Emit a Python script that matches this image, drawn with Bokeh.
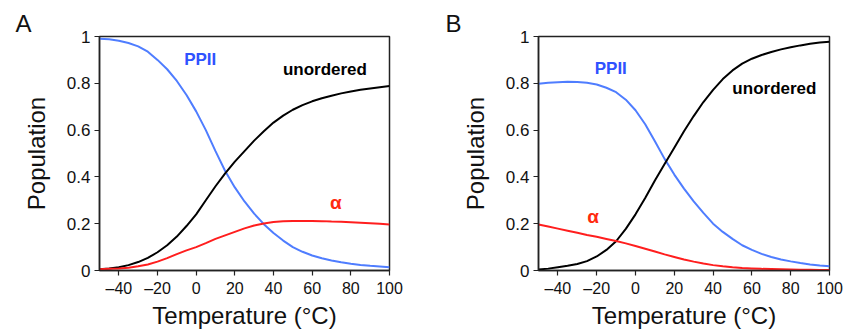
from bokeh.plotting import figure
from bokeh.layouts import row
from bokeh.models import Range1d, FixedTicker, CustomJSTickFormatter, Label
from bokeh.embed import file_html
from bokeh.resources import INLINE

# ---------------- data ----------------
temperature = [-50, -45, -40, -35, -30, -25, -20, -15, -10, -5, 0, 5, 10, 15, 20, 25,
               30, 35, 40, 45, 50, 55, 60, 65, 70, 75, 80, 85, 90, 95, 100]

a_ppii = [0.99, 0.988, 0.982, 0.972, 0.958, 0.935, 0.90, 0.86, 0.81, 0.75, 0.68, 0.60,
          0.51, 0.425, 0.355, 0.295, 0.243, 0.198, 0.160, 0.128, 0.10, 0.08, 0.064, 0.052,
          0.043, 0.035, 0.029, 0.024, 0.020, 0.017, 0.014]
a_unordered = [0.005, 0.009, 0.014, 0.023, 0.036, 0.054, 0.078, 0.108, 0.145, 0.19, 0.24,
               0.30, 0.36, 0.415, 0.465, 0.51, 0.555, 0.595, 0.632, 0.662, 0.687, 0.707,
               0.723, 0.736, 0.747, 0.757, 0.765, 0.772, 0.778, 0.783, 0.788]
a_alpha = [0.005, 0.007, 0.009, 0.012, 0.018, 0.026, 0.038, 0.053, 0.07, 0.086, 0.10,
           0.117, 0.135, 0.15, 0.165, 0.18, 0.192, 0.201, 0.207, 0.21, 0.212, 0.212,
           0.212, 0.211, 0.209, 0.208, 0.206, 0.204, 0.202, 0.20, 0.197]

b_ppii = [0.798, 0.802, 0.805, 0.807, 0.806, 0.802, 0.795, 0.781, 0.762, 0.73, 0.685,
          0.625, 0.552, 0.477, 0.41, 0.35, 0.295, 0.246, 0.20, 0.165, 0.135, 0.108,
          0.088, 0.071, 0.058, 0.047, 0.039, 0.032, 0.026, 0.021, 0.018]
b_unordered = [0.004, 0.008, 0.014, 0.02, 0.028, 0.04, 0.06, 0.088, 0.125, 0.178, 0.24,
               0.31, 0.385, 0.455, 0.525, 0.595, 0.66, 0.72, 0.772, 0.818, 0.855, 0.884,
               0.905, 0.921, 0.934, 0.945, 0.954, 0.962, 0.969, 0.974, 0.978]
b_alpha = [0.197, 0.188, 0.179, 0.17, 0.161, 0.152, 0.144, 0.135, 0.126, 0.116, 0.105,
           0.093, 0.081, 0.069, 0.058, 0.047, 0.038, 0.03, 0.023, 0.018, 0.014, 0.011,
           0.009, 0.007, 0.006, 0.005, 0.004, 0.003, 0.003, 0.002, 0.002]

x_ticks = [-40, -20, 0, 20, 40, 60, 80, 100]
y_ticks = [0, 0.2, 0.4, 0.6, 0.8, 1]

FONT = "Liberation Sans"
BLUE_LINE = "#4f7dff"
BLUE_TEXT = "#2f52ff"
RED_LINE = "#ff1e1e"
RED_TEXT = "#ff2a10"


def make_panel(letter, ppii, unordered, alpha, labels, width, border_right, letter_offset):
    p = figure(width=width, height=331, output_backend="svg", toolbar_location=None,
               x_range=Range1d(-50, 100), y_range=Range1d(0, 1),
               min_border_left=99, min_border_right=border_right,
               min_border_top=36, min_border_bottom=61)
    p.grid.visible = False
    p.outline_line_color = "#222222"
    p.outline_line_width = 1.5
    p.background_fill_color = "white"
    p.border_fill_color = "white"

    # panel letter as the title
    p.title.text = letter
    p.title.text_font = FONT
    p.title.text_font_size = "24px"
    p.title.text_font_style = "normal"
    p.title.text_color = "#111111"
    p.title.align = "left"
    p.title.offset = letter_offset
    p.title.standoff = 0
    p.title.text_line_height = 0.5

    p.line(temperature, ppii, line_color=BLUE_LINE, line_width=2)
    p.line(temperature, unordered, line_color="black", line_width=2)
    p.line(temperature, alpha, line_color=RED_LINE, line_width=2)

    for ax in (p.xaxis[0], p.yaxis[0]):
        ax.axis_line_color = "#222222"
        ax.axis_line_width = 1.5
        ax.major_tick_line_color = "#222222"
        ax.major_tick_line_width = 1.2
        ax.major_tick_out = 5
        ax.major_tick_in = 0
        ax.minor_tick_line_color = None
        ax.major_label_text_font = FONT
        ax.major_label_text_color = "#111111"
        ax.major_label_text_line_height = 1.0
        ax.axis_label_text_font = FONT
        ax.axis_label_text_font_style = "normal"
        ax.axis_label_text_color = "#111111"
        ax.axis_label_text_font_size = "24px"
        ax.axis_label_text_line_height = 1.0

    p.xaxis.ticker = FixedTicker(ticks=x_ticks)
    p.xaxis.formatter = CustomJSTickFormatter(
        code="return tick < 0 ? '\u2013' + Math.abs(tick) : String(tick);")
    p.xaxis.major_label_text_font_size = "16px"
    p.xaxis.major_label_standoff = 4
    p.xaxis.axis_label = "Temperature (°C)"
    p.xaxis.axis_label_standoff = 2

    p.yaxis.ticker = FixedTicker(ticks=y_ticks)
    p.yaxis.formatter = CustomJSTickFormatter(
        code="return String(Math.round(tick * 10) / 10);")
    p.yaxis.major_label_text_font_size = "17px"
    p.yaxis.major_label_standoff = 4
    p.yaxis.axis_label = "Population"
    p.yaxis.axis_label_standoff = 14

    (tx, ty), (ux, uy), (ax_, ay) = labels
    p.add_layout(Label(x=tx, y=ty, text="PPII", text_font=FONT, text_font_style="bold",
                       text_font_size="17px", text_color=BLUE_TEXT,
                       text_align="center", text_baseline="middle"))
    p.add_layout(Label(x=ux, y=uy, text="unordered", text_font=FONT, text_font_style="bold",
                       text_font_size="17px", text_color="black",
                       text_align="center", text_baseline="middle"))
    p.add_layout(Label(x=ax_, y=ay, text="α", text_font=FONT, text_font_style="bold",
                       text_font_size="19px", text_color=RED_TEXT,
                       text_align="center", text_baseline="middle"))
    return p


pa = make_panel("A", a_ppii, a_unordered, a_alpha,
                [(2.1, 0.902), (66.6, 0.861), (72.3, 0.291)],
                width=439, border_right=50, letter_offset=-84)
pb = make_panel("B", b_ppii, b_unordered, b_alpha,
                [(-12.75, 0.864), (71.6, 0.776), (-21.8, 0.231)],
                width=406, border_right=16, letter_offset=-93)

layout = row(pa, pb)
open("out.html", "w").write(file_html(layout, INLINE))
